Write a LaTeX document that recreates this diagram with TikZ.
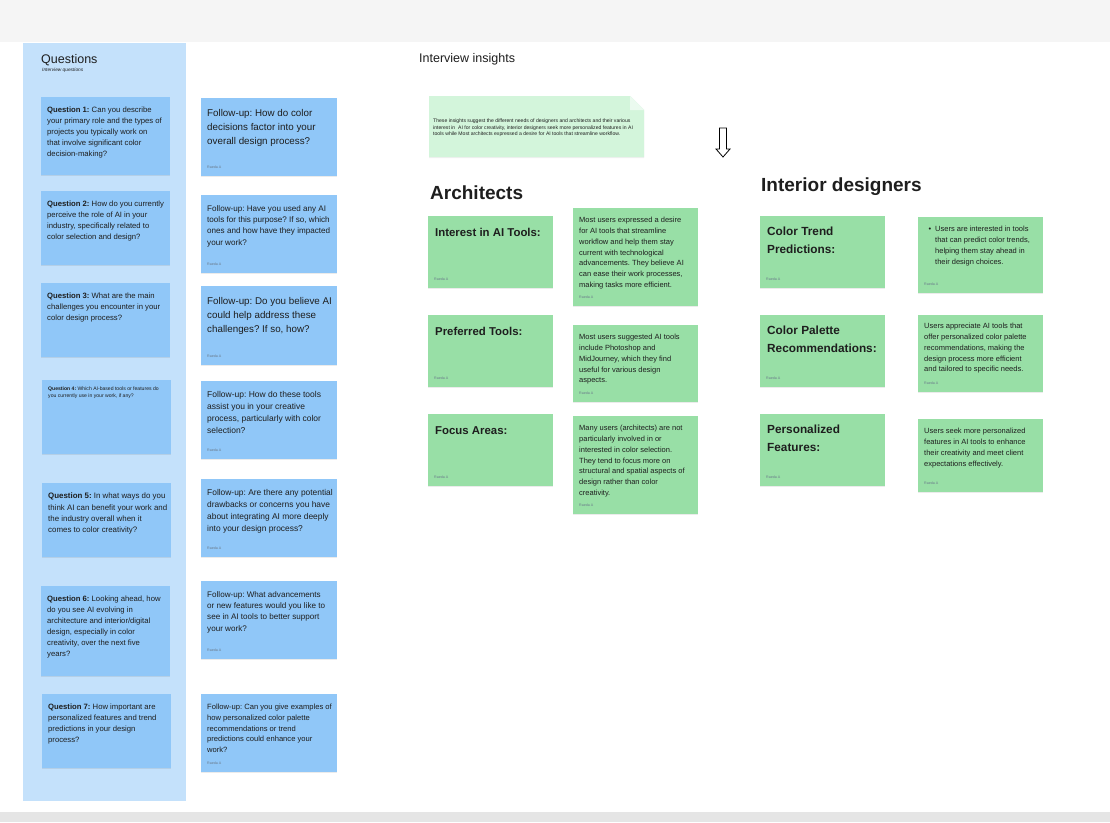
\documentclass[tikz,border=0pt]{standalone}
\usepackage{fontspec}
\setmainfont{Liberation Sans}
\usepackage{tikz}
\usetikzlibrary{shadows}
\frenchspacing

\definecolor{topband}{HTML}{F5F5F5}
\definecolor{botband}{HTML}{E5E5E5}
\definecolor{qpanel}{HTML}{C4E1FB}
\definecolor{qblue}{HTML}{90C7F8}
\definecolor{sgreen}{HTML}{98DFA6}
\definecolor{notegreen}{HTML}{D3F5DB}
\definecolor{ink}{HTML}{1E1E1E}
\definecolor{authorgray}{HTML}{6A7A8A}

\begin{document}
\begin{tikzpicture}[x=1pt, y=-1pt,
  sticky/.style={anchor=north west, inner sep=0pt, outer sep=0pt,
    drop shadow={shadow xshift=0pt, shadow yshift=-1pt, opacity=0.08, fill=black}},
  qnote/.style={sticky, fill=qblue, minimum width=129},
  fnote/.style={sticky, fill=qblue, minimum width=136, minimum height=78},
  gnote/.style={sticky, fill=sgreen, minimum width=125},
  stxt/.style={anchor=north west, inner sep=0pt, align=left, text=ink},
  qtxt/.style={stxt, font=\fontsize{7.7}{11}\selectfont},
  ftxt/.style={stxt, font=\fontsize{8.1}{11.4}\selectfont},
  fbig/.style={stxt, font=\fontsize{9.8}{14}\selectfont},
  gtxt/.style={stxt, font=\fontsize{7.5}{10.8}\selectfont},
  glabel/.style={stxt, font=\fontsize{11.4}{18}\selectfont\bfseries},
  author/.style={anchor=west, inner sep=0pt, text=authorgray, font=\fontsize{3.6}{4}\selectfont},
  heading/.style={anchor=north west, inner sep=0pt, text=ink, font=\fontsize{19}{22}\selectfont\bfseries}]

% Fond et bandes
\useasboundingbox (0,0) rectangle (1110,822);
\fill[white] (0,0) rectangle (1110,822);
\fill[topband] (0,0) rectangle (1110,42);
\fill[botband] (0,812) rectangle (1110,822);

% Colonne des questions
\fill[qpanel] (23,43) rectangle (186,801);
\node[anchor=north west, inner sep=0pt, text=ink, font=\fontsize{12.5}{14}\selectfont] (qtitle) at (41,54) {Questions};
\node[anchor=north west, inner sep=0pt, text=ink, font=\fontsize{4.8}{5}\selectfont\itshape] (qsub) at (42,68) {Interview questions};

% Questions 1 a 7
\node[qnote, minimum height=78] (q1) at (41,97) {};
\node[qtxt] (q1t) at ([shift={(6,10)}]q1.north west) {\textbf{Question 1:} Can you describe\\your primary role and the types of\\projects you typically work on\\that involve significant color\\decision-making?};

\node[qnote, minimum height=74] (q2) at (41,191) {};
\node[qtxt] (q2t) at ([shift={(6,10)}]q2.north west) {\textbf{Question 2:} How do you currently\\perceive the role of AI in your\\industry, specifically related to\\color selection and design?};

\node[qnote, minimum height=74] (q3) at (41,283) {};
\node[qtxt] (q3t) at ([shift={(6,10)}]q3.north west) {\textbf{Question 3:} What are the main\\challenges you encounter in your\\color design process?};

\node[qnote, minimum height=74] (q4) at (42,380) {};
\node[stxt, font=\fontsize{5.1}{6.8}\selectfont] (q4t) at ([shift={(6,7)}]q4.north west) {\textbf{Question 4:} Which AI-based tools or features do\\you currently use in your work, if any?};

\node[qnote, minimum height=74] (q5) at (42,483) {};
\node[qtxt, font=\fontsize{7.9}{11.3}\selectfont] (q5t) at ([shift={(6,10)}]q5.north west) {\textbf{Question 5:} In what ways do you\\think AI can benefit your work and\\the industry overall when it\\comes to color creativity?};

\node[qnote, minimum height=90] (q6) at (41,586) {};
\node[qtxt] (q6t) at ([shift={(6,10)}]q6.north west) {\textbf{Question 6:} Looking ahead, how\\do you see AI evolving in\\architecture and interior/digital\\design, especially in color\\creativity, over the next five\\years?};

\node[qnote, minimum height=74] (q7) at (42,694) {};
\node[qtxt] (q7t) at ([shift={(6,10)}]q7.north west) {\textbf{Question 7:} How important are\\personalized features and trend\\predictions in your design\\process?};

% Questions de suivi
\node[fnote] (f1) at (201,98) {};
\node[fbig] (f1t) at ([shift={(6,11)}]f1.north west) {Follow-up: How do color\\decisions factor into your\\overall design process?};
\node[author] at ([shift={(6,-9)}]f1.south west) {Raeda A};

\node[fnote] (f2) at (201,195) {};
\node[ftxt] (f2t) at ([shift={(6,10)}]f2.north west) {Follow-up: Have you used any AI\\tools for this purpose? If so, which\\ones and how have they impacted\\your work?};
\node[author] at ([shift={(6,-9)}]f2.south west) {Raeda A};

\node[fnote, minimum height=79] (f3) at (201,286) {};
\node[fbig] (f3t) at ([shift={(6,11)}]f3.north west) {Follow-up: Do you believe AI\\could help address these\\challenges? If so, how?};
\node[author] at ([shift={(6,-9)}]f3.south west) {Raeda A};

\node[fnote] (f4) at (201,381) {};
\node[ftxt, font=\fontsize{8.5}{12}\selectfont] (f4t) at ([shift={(6,10)}]f4.north west) {Follow-up: How do these tools\\assist you in your creative\\process, particularly with color\\selection?};
\node[author] at ([shift={(6,-9)}]f4.south west) {Raeda A};

\node[fnote] (f5) at (201,479) {};
\node[ftxt, font=\fontsize{8.4}{12}\selectfont] (f5t) at ([shift={(6,10)}]f5.north west) {Follow-up: Are there any potential\\drawbacks or concerns you have\\about integrating AI more deeply\\into your design process?};
\node[author] at ([shift={(6,-9)}]f5.south west) {Raeda A};

\node[fnote] (f6) at (201,581) {};
\node[ftxt] (f6t) at ([shift={(6,10)}]f6.north west) {Follow-up: What advancements\\or new features would you like to\\see in AI tools to better support\\your work?};
\node[author] at ([shift={(6,-9)}]f6.south west) {Raeda A};

\node[fnote] (f7) at (201,694) {};
\node[ftxt, font=\fontsize{7.6}{10.7}\selectfont] (f7t) at ([shift={(6,10)}]f7.north west) {Follow-up: Can you give examples of\\how personalized color palette\\recommendations or trend\\predictions could enhance your\\work?};
\node[author] at ([shift={(6,-9)}]f7.south west) {Raeda A};

% Synthese des entretiens
\node[anchor=north west, inner sep=0pt, text=ink, font=\fontsize{12.5}{14}\selectfont] (ititle) at (419,53) {Interview insights};
\fill[notegreen, drop shadow={shadow xshift=0pt, shadow yshift=-1pt, opacity=0.06, fill=black}] (429,96) -- (630,96) -- (644,110) -- (644,157) -- (429,157) -- cycle;
\fill[white!55!notegreen] (630,96) -- (644,110) -- (630,110) -- cycle;
\node[stxt, font=\fontsize{5.1}{6.3}\selectfont] (note) at (433,119) {These insights suggest the different needs of designers and architects and their various\\interest in \ AI for color creativity, interior designers seek more personalized features in AI\\tools while Most architects expressed a desire for AI tools that streamline workflow.};

% Fleche creuse
\filldraw[fill=white, draw=black, line width=0.8pt] (719.5,128) -- (726.5,128) -- (726.5,149) -- (730,149) -- (723,157) -- (716,149) -- (719.5,149) -- cycle;

% Architectes
\node[heading] (arch) at (430,186) {Architects};

\node[gnote, minimum height=72] (a1) at (428,216) {};
\node[glabel] (a1l) at ([shift={(7,12)}]a1.north west) {Interest in AI Tools:};
\node[author] at ([shift={(6,-9)}]a1.south west) {Raeda A};
\node[gnote, minimum height=98] (a1d) at (573,208) {};
\node[gtxt] (a1t) at ([shift={(6,9)}]a1d.north west) {Most users expressed a desire\\for AI tools that streamline\\workflow and help them stay\\current with technological\\advancements. They believe AI\\can ease their work processes,\\making tasks more efficient.};
\node[author] at ([shift={(6,-9)}]a1d.south west) {Raeda A};

\node[gnote, minimum height=72] (a2) at (428,315) {};
\node[glabel] (a2l) at ([shift={(7,12)}]a2.north west) {Preferred Tools:};
\node[author] at ([shift={(6,-9)}]a2.south west) {Raeda A};
\node[gnote, minimum height=77] (a2d) at (573,325) {};
\node[gtxt] (a2t) at ([shift={(6,9)}]a2d.north west) {Most users suggested AI tools\\include Photoshop and\\MidJourney, which they find\\useful for various design\\aspects.};
\node[author] at ([shift={(6,-9)}]a2d.south west) {Raeda A};

\node[gnote, minimum height=72] (a3) at (428,414) {};
\node[glabel] (a3l) at ([shift={(7,12)}]a3.north west) {Focus Areas:};
\node[author] at ([shift={(6,-9)}]a3.south west) {Raeda A};
\node[gnote, minimum height=98] (a3d) at (573,416) {};
\node[gtxt] (a3t) at ([shift={(6,9)}]a3d.north west) {Many users (architects) are not\\particularly involved in or\\interested in color selection.\\They tend to focus more on\\structural and spatial aspects of\\design rather than color\\creativity.};
\node[author] at ([shift={(6,-9)}]a3d.south west) {Raeda A};

% Architectes d'interieur
\node[heading] (inter) at (761,178) {Interior designers};

\node[gnote, minimum height=72] (i1) at (760,216) {};
\node[glabel, font=\fontsize{11.8}{18}\selectfont\bfseries] (i1l) at ([shift={(7,11)}]i1.north west) {Color Trend\\Predictions:};
\node[author] at ([shift={(6,-9)}]i1.south west) {Raeda A};
\node[gnote, minimum height=76] (i1d) at (918,217) {};
\node[gtxt] (i1t) at ([shift={(17,9)}]i1d.north west) {\makebox[0pt][r]{\textbullet\hspace{4pt}}Users are interested in tools\\that can predict color trends,\\helping them stay ahead in\\their design choices.};
\node[author] at ([shift={(6,-9)}]i1d.south west) {Raeda A};

\node[gnote, minimum height=72] (i2) at (760,315) {};
\node[glabel, font=\fontsize{11.8}{18}\selectfont\bfseries] (i2l) at ([shift={(7,11)}]i2.north west) {Color Palette\\Recommendations:};
\node[author] at ([shift={(6,-9)}]i2.south west) {Raeda A};
\node[gnote, minimum height=77] (i2d) at (918,315) {};
\node[gtxt] (i2t) at ([shift={(6,8)}]i2d.north west) {Users appreciate AI tools that\\offer personalized color palette\\recommendations, making the\\design process more efficient\\and tailored to specific needs.};
\node[author] at ([shift={(6,-9)}]i2d.south west) {Raeda A};

\node[gnote, minimum height=72] (i3) at (760,414) {};
\node[glabel, font=\fontsize{11.8}{18}\selectfont\bfseries] (i3l) at ([shift={(7,11)}]i3.north west) {Personalized\\Features:};
\node[author] at ([shift={(6,-9)}]i3.south west) {Raeda A};
\node[gnote, minimum height=73] (i3d) at (918,419) {};
\node[gtxt] (i3t) at ([shift={(6,9)}]i3d.north west) {Users seek more personalized\\features in AI tools to enhance\\their creativity and meet client\\expectations effectively.};
\node[author] at ([shift={(6,-9)}]i3d.south west) {Raeda A};
\end{tikzpicture}
\end{document}
